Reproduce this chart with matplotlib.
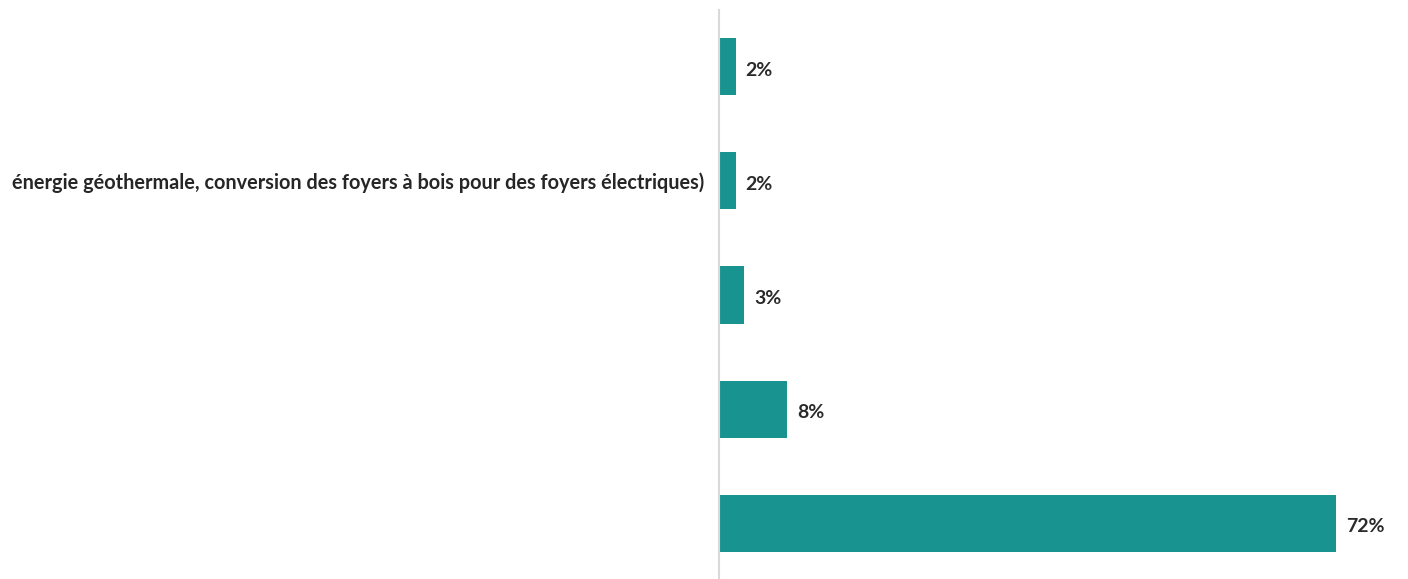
import matplotlib
matplotlib.use("Agg")
import matplotlib.pyplot as plt

categories = [
    "",
    "énergie géothermale, conversion des foyers à bois pour des foyers électriques)",
    "",
    "",
    "",
]
values = [2, 2, 3, 8, 72]
value_labels = ["2%", "2%", "3%", "8%", "72%"]

W, H = 1408, 579
fig = plt.figure(figsize=(W / 100, H / 100), dpi=100)
left_px, right_px = 718.5, 1404.6
top_px, bot_px = 9.5, 580.5
ax = fig.add_axes([left_px / W, 1 - bot_px / H, (right_px - left_px) / W, (bot_px - top_px) / H])

ypos = list(range(len(values)))
ax.barh(ypos, values, height=0.5, color="#19938F")
ax.set_ylim(len(values) - 0.5, -0.5)
ax.set_xlim(0, 80)

for y, v, lab in zip(ypos, values, value_labels):
    ax.annotate(lab, (v, y), xytext=(7, -2.5), textcoords="offset points",
                va="center", ha="left", fontsize=14, fontweight="bold",
                color="#2a2a2a", family="Lato")

ax.set_yticks(ypos)
ax.set_yticklabels(categories, fontsize=14.3, family="Lato", fontweight="bold", color="#262626")
for t in ax.get_yticklabels():
    t.set_y(t.get_position()[1])
ax.tick_params(axis="y", length=0, pad=10)
ax.set_xticks([])
for s in ["top", "right", "bottom"]:
    ax.spines[s].set_visible(False)
ax.spines["left"].set_color("#d9d9d9")
ax.spines["left"].set_linewidth(1.5)

fig.savefig("out.png", dpi=100)
